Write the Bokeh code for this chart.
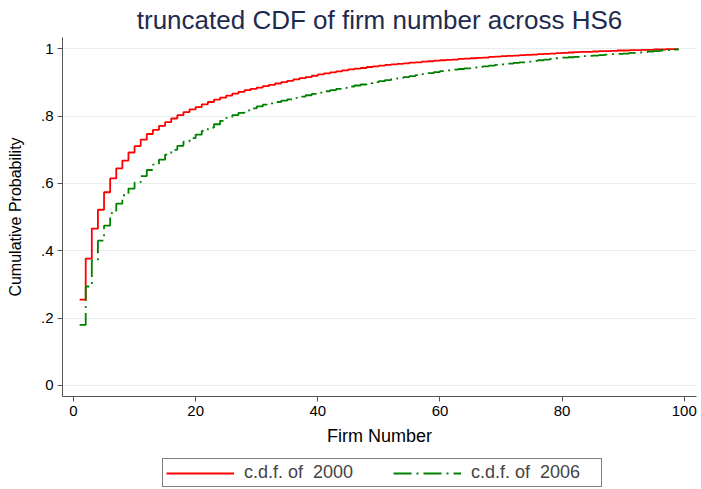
from bokeh.plotting import figure
from bokeh.layouts import column
from bokeh.models import Range1d, FixedTicker, Legend, LegendItem
from bokeh.embed import file_html
from bokeh.resources import INLINE

firm_number = list(range(1, 100))

cdf_2000 = [
    0.255, 0.377, 0.466, 0.522, 0.574, 0.615, 0.645, 0.668, 0.692, 0.711,
    0.730, 0.747, 0.759, 0.771, 0.782, 0.793, 0.803, 0.812, 0.820, 0.827,
    0.835, 0.842, 0.849, 0.855, 0.861, 0.867, 0.872, 0.877, 0.881, 0.885,
    0.889, 0.893, 0.897, 0.901, 0.905, 0.909, 0.913, 0.916, 0.920, 0.924,
    0.927, 0.930, 0.933, 0.936, 0.939, 0.941, 0.943, 0.946, 0.948, 0.950,
    0.952, 0.954, 0.955, 0.957, 0.959, 0.960, 0.962, 0.963, 0.965, 0.966,
    0.967, 0.968, 0.970, 0.971, 0.972, 0.973, 0.974, 0.976, 0.977, 0.978,
    0.979, 0.980, 0.981, 0.982, 0.983, 0.984, 0.985, 0.986, 0.987, 0.988,
    0.989, 0.990, 0.991, 0.991, 0.992, 0.993, 0.993, 0.994, 0.995, 0.995,
    0.996, 0.996, 0.997, 0.997, 0.998, 0.998, 0.999, 0.999, 1.000,
]

cdf_2006 = [
    0.180, 0.294, 0.372, 0.430, 0.475, 0.512, 0.540, 0.565, 0.585, 0.603,
    0.622, 0.640, 0.656, 0.671, 0.686, 0.700, 0.712, 0.724, 0.735, 0.745,
    0.756, 0.766, 0.776, 0.786, 0.795, 0.803, 0.810, 0.817, 0.823, 0.829,
    0.834, 0.838, 0.842, 0.846, 0.850, 0.854, 0.858, 0.862, 0.866, 0.870,
    0.874, 0.877, 0.881, 0.884, 0.888, 0.891, 0.894, 0.898, 0.901, 0.904,
    0.907, 0.910, 0.913, 0.916, 0.919, 0.922, 0.925, 0.928, 0.931, 0.934,
    0.936, 0.938, 0.940, 0.942, 0.944, 0.946, 0.948, 0.950, 0.952, 0.954,
    0.956, 0.958, 0.960, 0.962, 0.964, 0.966, 0.968, 0.970, 0.972, 0.974,
    0.975, 0.976, 0.978, 0.979, 0.980, 0.981, 0.983, 0.984, 0.985, 0.986,
    0.988, 0.989, 0.990, 0.992, 0.993, 0.995, 0.996, 0.998, 1.000,
]

x_ticks = [0, 20, 40, 60, 80, 100]
y_ticks = [0, 0.2, 0.4, 0.6, 0.8, 1]
y_tick_labels = {0: "0", 0.2: ".2", 0.4: ".4", 0.6: ".6", 0.8: ".8", 1: "1"}

title_text = "truncated CDF of firm number across HS6"
x_label = "Firm Number"
y_label = "Cumulative Probability"
series_labels = ["c.d.f. of  2000", "c.d.f. of  2006"]

FONT = "Liberation Sans"
RED = "#ff0000"
GREEN = "#008000"
GREEN_DASH = "18 5 2 5"

p = figure(width=701, height=450, output_backend="svg", toolbar_location=None,
           x_range=Range1d(-1.8, 102), y_range=Range1d(-0.0327, 1.0336),
           min_border_left=62, min_border_right=5, min_border_top=37,
           min_border_bottom=54)

p.background_fill_color = "white"
p.border_fill_color = "white"
p.outline_line_color = None

p.title.text = title_text
p.title.align = "center"
p.title.offset = 10
p.title.text_font = FONT
p.title.text_font_size = "26px"
p.title.text_font_style = "normal"
p.title.text_color = "#1e2b4e"
p.title.standoff = 5

r1 = p.step(firm_number, cdf_2000, mode="after", line_color=RED, line_width=1.8)
r2 = p.step(firm_number, cdf_2006, mode="after", line_color=GREEN, line_width=1.8,
            line_dash=GREEN_DASH)

for ax in (p.xaxis[0], p.yaxis[0]):
    ax.axis_line_color = "#555555"
    ax.major_tick_line_color = "#555555"
    ax.minor_tick_line_color = None
    ax.major_tick_out = 5
    ax.major_tick_in = 0
    ax.major_label_text_font = FONT
    ax.major_label_text_font_size = "15px"
    ax.major_label_text_color = "black"
    ax.axis_label_text_font = FONT
    ax.axis_label_text_font_style = "normal"
    ax.axis_label_text_color = "black"

p.xaxis.ticker = FixedTicker(ticks=x_ticks)
p.yaxis.ticker = FixedTicker(ticks=y_ticks)
p.yaxis.major_label_overrides = y_tick_labels
p.xaxis.axis_label = x_label
p.yaxis.axis_label = y_label
p.xaxis.axis_label_text_font_size = "18px"
p.yaxis.axis_label_text_font_size = "16px"
p.xaxis.major_label_standoff = 4
p.xaxis.axis_label_standoff = 7
p.yaxis.major_label_standoff = 4
p.yaxis.axis_label_standoff = 14

p.xgrid.grid_line_color = None
p.ygrid.ticker = FixedTicker(ticks=y_ticks)
p.ygrid.grid_line_color = "#e6eef0"
p.ygrid.grid_line_width = 1

# legend strip below the plot
lg = figure(width=701, height=39, output_backend="svg", toolbar_location=None,
            x_range=Range1d(0, 1), y_range=Range1d(0, 1),
            x_axis_location=None, y_axis_location=None,
            min_border_left=0, min_border_right=0, min_border_top=0,
            min_border_bottom=0)
lg.xgrid.visible = False
lg.ygrid.visible = False
lg.outline_line_color = None
lg.background_fill_color = "white"
lg.border_fill_color = "white"
lr1 = lg.line(x=firm_number[:1], y=cdf_2000[:1], line_color=RED, line_width=1.8)
lr2 = lg.line(x=firm_number[:1], y=cdf_2006[:1], line_color=GREEN, line_width=1.8,
              line_dash=GREEN_DASH)

legend = Legend(items=[LegendItem(label=series_labels[0], renderers=[lr1]),
                       LegendItem(label=series_labels[1], renderers=[lr2])],
                orientation="horizontal", location=(100, 2),
                border_line_color="black", border_line_width=1,
                background_fill_color="white", background_fill_alpha=1,
                glyph_width=68, glyph_height=20, label_standoff=10,
                label_width=127, spacing=22, padding=3, margin=0,
                label_text_font=FONT, label_text_font_size="18px")
lg.add_layout(legend, "center")

layout = column(p, lg, spacing=0)
open("out.html", "w").write(file_html(layout, INLINE))
